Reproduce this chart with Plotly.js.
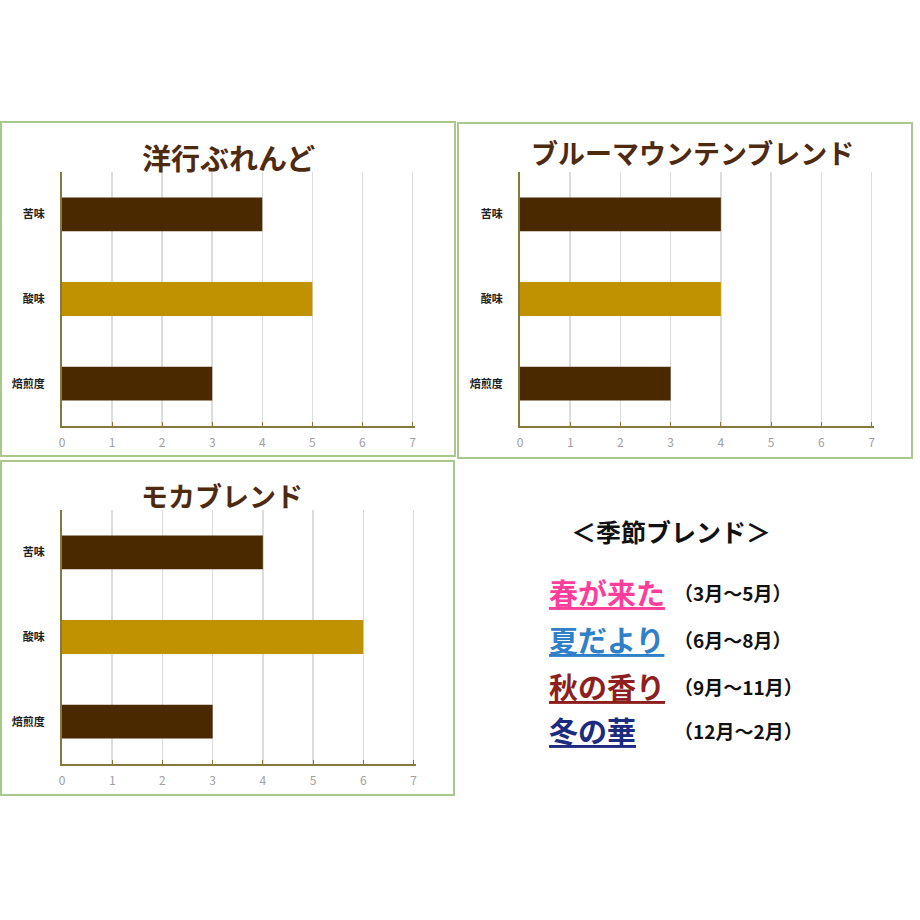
<!DOCTYPE html>
<html>
<head>
<meta charset="utf-8">
<script src="https://cdn.plot.ly/plotly-3.0.1.min.js"></script>
<style>
  html, body { margin: 0; padding: 0; background: #fff; }
  #chart { width: 920px; height: 920px; }
</style>
</head>
<body>
<div id="chart"></div>
<script>
// tastes, top to bottom
const tastes = ['苦味', '酸味', '焙煎度'];

const youkouValues = [4, 5, 3];        // 洋行ぶれんど
const blueMountainValues = [4, 4, 3];  // ブルーマウンテンブレンド
const mochaValues = [4, 6, 3];         // モカブレンド

const blendNames = ['洋行ぶれんど', 'ブルーマウンテンブレンド', 'モカブレンド'];
const xTicks = [0, 1, 2, 3, 4, 5, 6, 7];

const seasonHeading = '＜季節ブレンド＞';
const seasonNames = ['春が来た', '夏だより', '秋の香り', '冬の華'];
const seasonMonths = ['（3月～5月）', '（6月～8月）', '（9月～11月）', '（12月～2月）'];

const DARK = '#4b2900';
const GOLD = '#c09100';
const FONT = '"Noto Sans CJK JP", "Noto Sans", sans-serif';
const seasonColors = ['#ff3d9a', '#2f80c8', '#8e1f1f', '#1c2a80'];

const P = v => v / 920; // pixel -> paper

function barTrace(vals, n) {
  return {
    type: 'bar',
    orientation: 'h',
    x: vals,
    y: tastes,
    xaxis: 'x' + (n === 1 ? '' : n),
    yaxis: 'y' + (n === 1 ? '' : n),
    marker: {
      color: tastes.map((t, i) => i === 1 ? GOLD : DARK),
      line: { width: 0 }
    },
    hoverinfo: 'x+y',
    showlegend: false
  };
}

function xAxis(domain, anchor) {
  return {
    domain: domain,
    anchor: anchor,
    range: [0, 7.05],
    tickvals: xTicks,
    showgrid: true,
    gridcolor: '#dcdcdc',
    gridwidth: 1.5,
    zeroline: false,
    showline: true,
    linecolor: '#857a3c',
    linewidth: 2,
    ticks: 'inside',
    ticklen: 4,
    tickcolor: '#857a3c',
    ticklabelstandoff: 5,
    tickfont: { family: FONT, size: 12, color: '#a0a0a0' },
    fixedrange: true
  };
}

function yAxis(domain, anchor) {
  return {
    domain: domain,
    anchor: anchor,
    autorange: 'reversed',
    showgrid: false,
    zeroline: false,
    showline: true,
    linecolor: '#857a3c',
    linewidth: 2,
    ticks: '',
    ticklabelstandoff: 13,
    tickfont: { family: FONT, size: 11, color: '#222', weight: 'bold' },
    fixedrange: true
  };
}

const data = [
  barTrace(youkouValues, 1),
  barTrace(blueMountainValues, 2),
  barTrace(mochaValues, 3)
];

const topY = [P(920 - 426), P(920 - 172)];
const botY = [P(920 - 764), P(920 - 510)];

const panelLine = { color: '#a9c98c', width: 2 };
const shapes = [
  { type: 'rect', xref: 'paper', yref: 'paper', x0: P(1), x1: P(455), y0: P(920 - 122), y1: P(920 - 456), line: panelLine },
  { type: 'rect', xref: 'paper', yref: 'paper', x0: P(458), x1: P(912), y0: P(920 - 123), y1: P(920 - 458), line: panelLine },
  { type: 'rect', xref: 'paper', yref: 'paper', x0: P(1), x1: P(454), y0: P(920 - 461), y1: P(920 - 795), line: panelLine }
];

const titleFont = size => ({ family: FONT, size: size, color: '#4e2a10', weight: 'bold' });
const annotations = [
  { text: blendNames[0], x: P(228), y: P(920 - 157), font: titleFont(29) },
  { text: blendNames[1], x: P(692), y: P(920 - 152), font: titleFont(27) },
  { text: blendNames[2], x: P(222), y: P(920 - 495), font: titleFont(27) },
  { text: seasonHeading, x: P(671), y: P(920 - 531),
    font: { family: FONT, size: 25, color: '#111', weight: 'bold' } }
];

const seasonY = [592, 639, 686, 730];
seasonNames.forEach((name, i) => {
  annotations.push({
    text: '<u>' + name + '</u>',
    x: P(547), y: P(920 - seasonY[i]), xanchor: 'left',
    font: { family: FONT, size: 29, color: seasonColors[i], weight: 'bold' }
  });
  annotations.push({
    text: seasonMonths[i],
    x: P(672), y: P(920 - seasonY[i]), xanchor: 'left',
    font: { family: FONT, size: 19, color: '#111', weight: 'bold' }
  });
});
annotations.forEach(a => {
  a.xref = 'paper';
  a.yref = 'paper';
  a.showarrow = false;
  if (!a.xanchor) a.xanchor = 'center';
  a.yanchor = 'middle';
});

const layout = {
  width: 920,
  height: 920,
  margin: { l: 0, r: 0, t: 0, b: 0 },
  paper_bgcolor: '#fff',
  plot_bgcolor: '#fff',
  bargap: 0.6,
  xaxis: xAxis([P(62), P(415)], 'y'),
  yaxis: yAxis(topY, 'x'),
  xaxis2: xAxis([P(520), P(874)], 'y2'),
  yaxis2: yAxis(topY, 'x2'),
  xaxis3: xAxis([P(62), P(416)], 'y3'),
  yaxis3: yAxis(botY, 'x3'),
  shapes: shapes,
  annotations: annotations
};

Plotly.newPlot('chart', data, layout, { displayModeBar: false, staticPlot: true });
</script>
</body>
</html>
